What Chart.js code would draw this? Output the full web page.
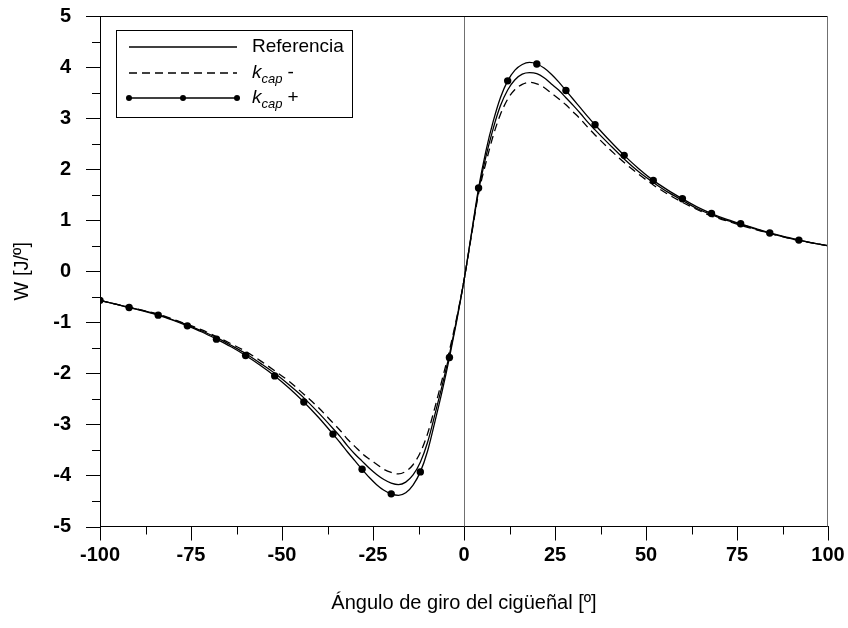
<!DOCTYPE html>
<html>
<head>
<meta charset="utf-8">
<script src="https://cdn.jsdelivr.net/npm/chart.js@4.4.0/dist/chart.umd.min.js"></script>
<style>
html, body { margin: 0; padding: 0; background: #fff; }
#wrap { width: 848px; height: 628px; }
</style>
</head>
<body>
<div id="wrap"><canvas id="chart" width="848" height="628"></canvas></div>
<script>
const FONT = 'Arial, "Liberation Sans", sans-serif';

// Ángulo de giro (grados)
const angles = [-100, -96, -92, -88, -84, -80, -76, -72, -68, -64, -60, -56, -52, -48, -44, -40, -36,
    -34, -32, -30, -28, -26, -24, -22, -20, -18, -16, -14, -12, -10, -8, -6, -4, -2, 0,
    2, 4, 6, 8, 10, 12, 14, 16, 18, 20, 22, 24, 26, 28, 30, 32, 34,
    36, 40, 44, 48, 52, 56, 60, 64, 68, 72, 76, 80, 84, 88, 92, 96, 100];

// W [J/º]
const referencia = [-0.57, -0.64, -0.71, -0.77, -0.85, -0.95, -1.05, -1.17, -1.30, -1.45, -1.61, -1.80, -2.00, -2.23, -2.48, -2.77, -3.08,
    -3.24, -3.42, -3.58, -3.72, -3.86, -3.98, -4.08, -4.15, -4.18, -4.13, -3.99, -3.74, -3.35, -2.81, -2.24, -1.63, -0.94, -0.18,
    0.70, 1.57, 2.24, 2.79, 3.24, 3.55, 3.75, 3.86, 3.89, 3.87, 3.79, 3.67, 3.55, 3.40, 3.25, 3.09, 2.92,
    2.77, 2.48, 2.20, 1.95, 1.74, 1.55, 1.39, 1.23, 1.11, 1.00, 0.92, 0.83, 0.74, 0.67, 0.61, 0.55, 0.50];

const kcapMenos = [-0.57, -0.64, -0.70, -0.77, -0.84, -0.94, -1.04, -1.15, -1.28, -1.42, -1.57, -1.75, -1.95, -2.16, -2.41, -2.67, -2.97,
    -3.12, -3.29, -3.43, -3.57, -3.68, -3.78, -3.88, -3.94, -3.97, -3.92, -3.79, -3.55, -3.18, -2.67, -2.12, -1.55, -0.91, -0.18,
    0.68, 1.52, 2.12, 2.65, 3.07, 3.37, 3.56, 3.66, 3.70, 3.67, 3.60, 3.49, 3.38, 3.26, 3.12, 2.98, 2.82,
    2.67, 2.39, 2.13, 1.90, 1.69, 1.51, 1.35, 1.21, 1.08, 0.99, 0.90, 0.82, 0.74, 0.67, 0.60, 0.55, 0.50];

const kcapMas = [-0.57, -0.64, -0.71, -0.78, -0.86, -0.96, -1.07, -1.19, -1.33, -1.48, -1.65, -1.84, -2.05, -2.29, -2.56, -2.86, -3.19,
    -3.36, -3.54, -3.71, -3.88, -4.04, -4.18, -4.29, -4.36, -4.39, -4.34, -4.19, -3.93, -3.52, -2.95, -2.35, -1.69, -0.97, -0.18,
    0.72, 1.63, 2.35, 2.93, 3.40, 3.73, 3.94, 4.05, 4.09, 4.06, 3.98, 3.86, 3.71, 3.54, 3.37, 3.20, 3.03,
    2.87, 2.56, 2.27, 2.01, 1.78, 1.59, 1.42, 1.26, 1.13, 1.02, 0.93, 0.84, 0.75, 0.68, 0.61, 0.55, 0.50];

// ángulos donde la serie k_cap+ lleva marcador
const markerAngles = [-100, -92, -84, -76, -68, -60, -52, -44, -36, -28, -20, -12, -4,
    4, 12, 20, 28, 36, 44, 52, 60, 68, 76, 84, 92];

const xMajorTicks = [-100, -75, -50, -25, 0, 25, 50, 75, 100];
const xMinorTicks = [-87.5, -62.5, -37.5, -12.5, 12.5, 37.5, 62.5, 87.5];
const yMajorTicks = [-5, -4, -3, -2, -1, 0, 1, 2, 3, 4, 5];
const yMinorTicks = [-4.5, -3.5, -2.5, -1.5, -0.5, 0.5, 1.5, 2.5, 3.5, 4.5];

const toPoints = vals => vals.map((v, i) => ({ x: angles[i], y: v }));

// marco, ticks, línea vertical en 0 y leyenda
const framePlugin = {
    id: 'frame',
    beforeDatasetsDraw(chart) {
        const { ctx, chartArea: a, scales: { x } } = chart;
        ctx.save();
        ctx.strokeStyle = '#707070';
        ctx.lineWidth = 1;
        const x0 = Math.round(x.getPixelForValue(0)) + 0.5;
        ctx.beginPath();
        ctx.moveTo(x0, a.top);
        ctx.lineTo(x0, a.bottom);
        ctx.stroke();
        ctx.restore();
    },
    afterDraw(chart) {
        const { ctx, chartArea: a, scales: { x, y } } = chart;
        ctx.save();
        ctx.lineWidth = 1;

        // borde superior y derecho
        ctx.strokeStyle = '#000';
        ctx.beginPath();
        ctx.moveTo(a.left, a.top + 0.5);
        ctx.lineTo(a.right, a.top + 0.5);
        ctx.stroke();
        ctx.strokeStyle = '#707070';
        ctx.beginPath();
        ctx.moveTo(a.right - 0.5, a.top);
        ctx.lineTo(a.right - 0.5, a.bottom);
        ctx.stroke();

        // ticks
        ctx.strokeStyle = '#000';
        const xt = (v, len) => {
            const px = Math.round(x.getPixelForValue(v)) + 0.5;
            ctx.beginPath();
            ctx.moveTo(px, a.bottom);
            ctx.lineTo(px, a.bottom + len);
            ctx.stroke();
        };
        const yt = (v, len) => {
            const py = Math.round(y.getPixelForValue(v)) + 0.5;
            ctx.beginPath();
            ctx.moveTo(a.left, py);
            ctx.lineTo(a.left - len, py);
            ctx.stroke();
        };
        xMajorTicks.forEach(v => xt(v, 14));
        xMinorTicks.forEach(v => xt(v, 8));
        yMajorTicks.forEach(v => yt(v, 14));
        yMinorTicks.forEach(v => yt(v, 8));

        // leyenda
        const bx = 116, by = 30, bw = 236, bh = 87;
        ctx.fillStyle = '#fff';
        ctx.fillRect(bx, by, bw, bh);
        ctx.strokeStyle = '#000';
        ctx.strokeRect(bx + 0.5, by + 0.5, bw, bh);

        const l0 = 129, l1 = 237, tx = 252;
        const rows = [47, 73, 98];
        ctx.lineWidth = 1.3;
        ctx.beginPath();
        ctx.moveTo(l0, rows[0]);
        ctx.lineTo(l1, rows[0]);
        ctx.stroke();
        ctx.setLineDash([8, 5]);
        ctx.beginPath();
        ctx.moveTo(l0, rows[1]);
        ctx.lineTo(l1, rows[1]);
        ctx.stroke();
        ctx.setLineDash([]);
        ctx.beginPath();
        ctx.moveTo(l0, rows[2]);
        ctx.lineTo(l1, rows[2]);
        ctx.stroke();
        ctx.fillStyle = '#000';
        [l0, (l0 + l1) / 2, l1].forEach(px => {
            ctx.beginPath();
            ctx.arc(px, rows[2], 3, 0, Math.PI * 2);
            ctx.fill();
        });

        ctx.textBaseline = 'middle';
        ctx.textAlign = 'left';
        ctx.font = '19px ' + FONT;
        ctx.fillText('Referencia', tx, rows[0]);

        const kcap = (row, sign) => {
            let px = tx;
            ctx.font = 'italic 19px ' + FONT;
            ctx.fillText('k', px, row);
            px += ctx.measureText('k').width;
            ctx.font = 'italic 13px ' + FONT;
            ctx.fillText('cap', px, row + 6);
            px += ctx.measureText('cap').width + 5;
            ctx.font = '19px ' + FONT;
            ctx.fillText(sign, px, row);
        };
        kcap(rows[1], '-');
        kcap(rows[2], '+');
        ctx.restore();
    }
};

const ctx = document.getElementById('chart').getContext('2d');
new Chart(ctx, {
    type: 'line',
    data: {
        datasets: [
            {
                label: 'Referencia',
                data: toPoints(referencia),
                borderColor: '#000',
                borderWidth: 1.3,
                pointRadius: 0,
                cubicInterpolationMode: 'monotone',
                fill: false
            },
            {
                label: 'kcap -',
                data: toPoints(kcapMenos),
                borderColor: '#000',
                borderWidth: 1.3,
                borderDash: [8, 5],
                pointRadius: 0,
                cubicInterpolationMode: 'monotone',
                fill: false
            },
            {
                label: 'kcap +',
                data: toPoints(kcapMas),
                borderColor: '#000',
                borderWidth: 1.3,
                backgroundColor: '#000',
                pointBackgroundColor: '#000',
                pointBorderWidth: 0,
                pointRadius: c => markerAngles.includes(angles[c.dataIndex]) ? 3.7 : 0,
                cubicInterpolationMode: 'monotone',
                fill: false
            }
        ]
    },
    options: {
        responsive: false,
        animation: false,
        layout: { padding: { top: 16, right: 20, bottom: 0, left: 0 } },
        plugins: {
            legend: { display: false },
            tooltip: { enabled: false }
        },
        scales: {
            x: {
                type: 'linear',
                min: -100,
                max: 100,
                afterFit: s => {
                    s.height = 101.5;
                    s.paddingLeft = 0;
                    s.paddingRight = 0;
                },
                afterBuildTicks: s => { s.ticks = xMajorTicks.map(v => ({ value: v })); },
                grid: { display: false, drawTicks: false, tickLength: 0 },
                border: { display: true, color: '#000', width: 1 },
                ticks: {
                    color: '#000',
                    font: { family: FONT, size: 20, weight: 'bold' },
                    padding: 17,
                    maxRotation: 0,
                    autoSkip: false
                },
                title: {
                    display: true,
                    text: 'Ángulo de giro del cigüeñal [º]',
                    color: '#000',
                    font: { family: FONT, size: 20 },
                    padding: { top: 0, bottom: 13 }
                }
            },
            y: {
                type: 'linear',
                min: -5,
                max: 5,
                afterFit: s => {
                    s.width = 100;
                    s.paddingTop = 0;
                    s.paddingBottom = 0;
                },
                afterBuildTicks: s => { s.ticks = yMajorTicks.map(v => ({ value: v })); },
                grid: { display: false, drawTicks: false, tickLength: 0 },
                border: { display: true, color: '#000', width: 1 },
                ticks: {
                    color: '#000',
                    font: { family: FONT, size: 20, weight: 'bold' },
                    padding: 29
                },
                title: {
                    display: true,
                    text: 'W [J/º]',
                    color: '#000',
                    font: { family: FONT, size: 20 },
                    padding: { top: 10, bottom: 0 }
                }
            }
        }
    },
    plugins: [framePlugin]
});
</script>
</body>
</html>
